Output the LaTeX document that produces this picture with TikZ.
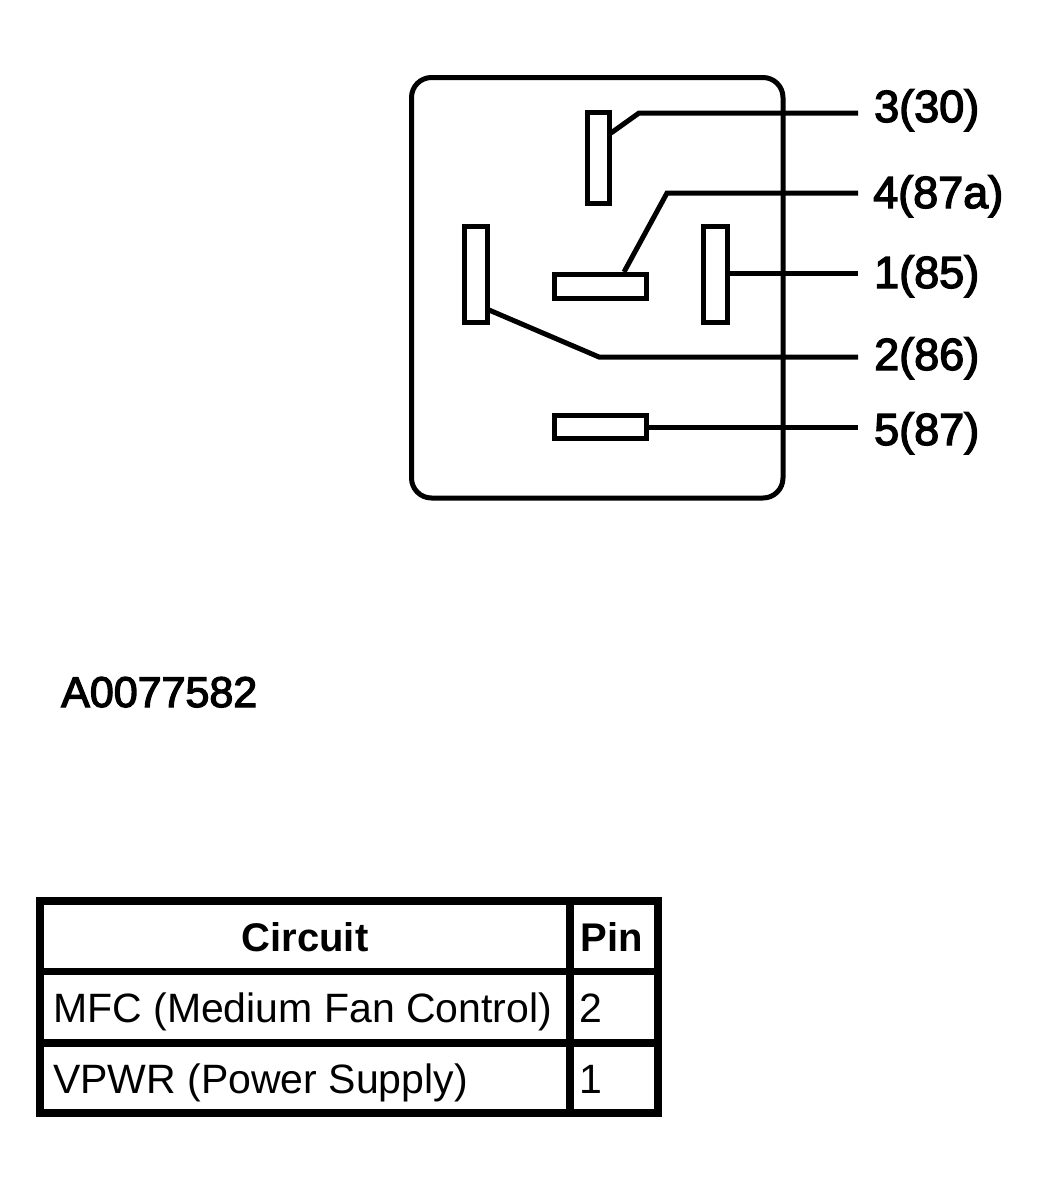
\documentclass[tikz,border=0pt]{standalone}
\usepackage{fontspec}
\setmainfont{Liberation Sans}
\newfontfamily\lblfont[FakeBold=3]{Liberation Sans}
\begin{document}
\begin{tikzpicture}[x=1pt,y=-1pt,
  pin/.style={draw,line width=5pt,inner sep=0pt,fill=white},
  wire/.style={line width=5pt,line join=miter},
  lbl/.style={anchor=base west,inner sep=0pt,font=\lblfont\fontsize{45}{54}\selectfont},
  cell/.style={inner sep=0pt,font=\fontsize{41}{49}\selectfont},
  head/.style={inner sep=0pt,anchor=base,font=\bfseries\fontsize{40}{48}\selectfont},
  grid/.style={line width=7.5pt}]
\useasboundingbox (0,0) rectangle (1044,1192);
% housing
\draw[line width=5pt,rounded corners=20pt] (411.5,77.5) rectangle (783,498);
% terminals
\node[pin,minimum width=22pt,minimum height=91pt] (p3) at (598.5,158) {};
\node[pin,minimum width=92pt,minimum height=24pt] (p4) at (600.5,286.5) {};
\node[pin,minimum width=23pt,minimum height=96pt] (p2) at (476,274.5) {};
\node[pin,minimum width=24pt,minimum height=96pt] (p1) at (715.5,274.5) {};
\node[pin,minimum width=92pt,minimum height=23pt] (p5) at (600.5,427) {};
% labels
\node[lbl] (l3) at (874,122) {3(30)};
\node[lbl] (l4) at (873,208) {4(87a)};
\node[lbl] (l1) at (874,288) {1(85)};
\node[lbl] (l2) at (874,370) {2(86)};
\node[lbl] (l5) at (874,445) {5(87)};
% wire bends and ends
\coordinate (s3) at (611,133);
\coordinate (b3) at (639,113);
\coordinate (e3) at (858,113);
\coordinate (s4) at (624,272);
\coordinate (b4) at (667,193);
\coordinate (e4) at (858,193);
\coordinate (s1) at (730,273);
\coordinate (e1) at (858,273);
\coordinate (s2) at (489,310);
\coordinate (b2) at (599,357);
\coordinate (e2) at (858,357);
\coordinate (s5) at (649,427);
\coordinate (e5) at (858,427);
\draw[wire] (s3) -- (b3) -- (e3);
\draw[wire] (s4) -- (b4) -- (e4);
\draw[wire] (s1) -- (e1);
\draw[wire] (s2) -- (b2) -- (e2);
\draw[wire] (s5) -- (e5);
% figure id
\node[lbl,font=\lblfont\fontsize{43}{52}\selectfont] (fig) at (61,707) {A0077582};
% table
\draw[line width=8pt] (39.5,900.5) rectangle (658,1112.5);
\draw[grid] (39.5,971.5) -- (658,971.5);
\draw[grid] (39.5,1043) -- (658,1043);
\draw[grid] (570,900.5) -- (570,1112.5);
\node[head] (hc) at (305,951) {Circuit};
\node[head] (hp) at (612,951) {Pin};
\node[cell,anchor=base west] (c1) at (53,1022) {MFC (Medium Fan Control)};
\node[cell,anchor=base west] (n1) at (579,1022) {2};
\node[cell,anchor=base west] (c2) at (53,1093) {VPWR (Power Supply)};
\node[cell,anchor=base west] (n2) at (579,1093) {1};
\end{tikzpicture}
\end{document}
